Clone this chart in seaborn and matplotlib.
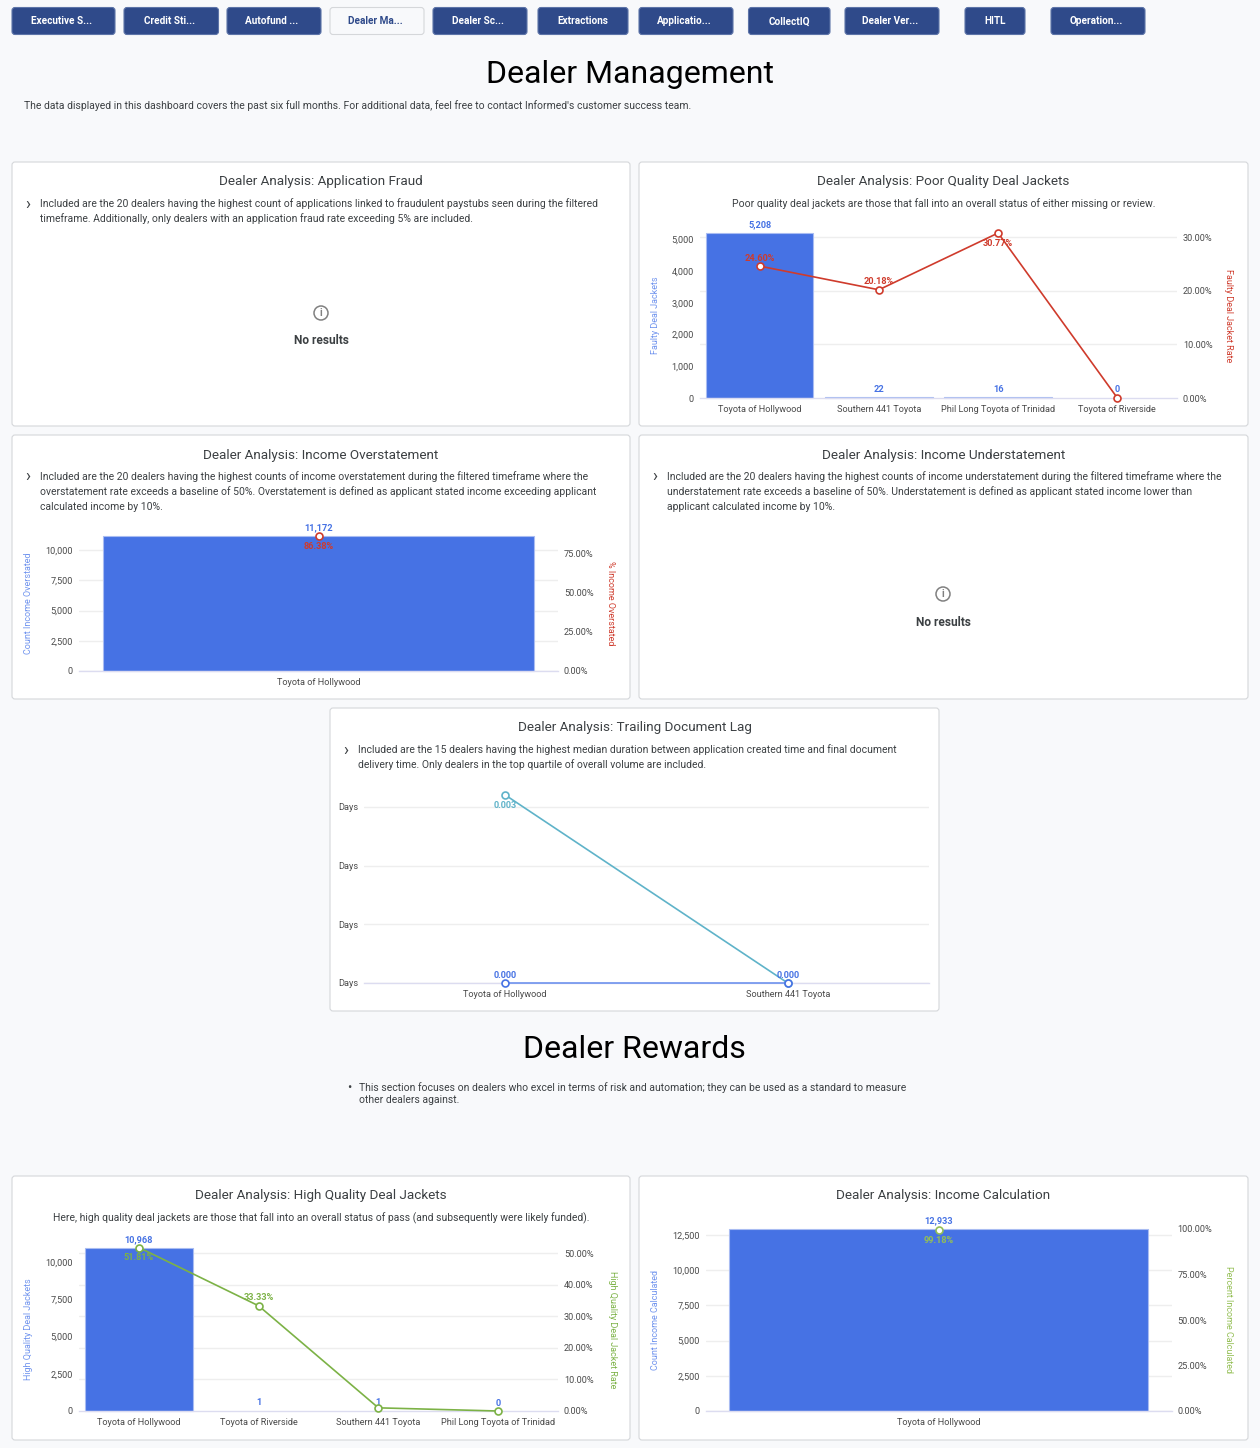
import numpy as np
import matplotlib
matplotlib.use("Agg")
import matplotlib.pyplot as plt
import seaborn as sns
from matplotlib.patches import FancyBboxPatch, Circle

W, H = 1260, 1448
PAGE = "#f8f9fb"
NAVY = "#2f4a8a"
BLUE = "#4672e4"
BLUE_LABEL = "#6f93ee"
RED = "#cf3b2c"
GREEN = "#7cb246"
LIME = "#94bf55"
TEAL = "#5fb3c9"
GRID = "#eeeeee"
BASE = "#dcdcf0"
TEXT = "#3c4043"
TICK = "#4a4a4a"

# data
tabs = ["Executive S...", "Credit Sti...", "Autofund ...", "Dealer Ma...", "Dealer Sc...", "Extractions",
        "Applicatio...", "CollectIQ", "Dealer Ver...", "HITL", "Operation..."]

poor_dealers = ["Toyota of Hollywood", "Southern 441 Toyota", "Phil Long Toyota of Trinidad", "Toyota of Riverside"]
poor_counts = [5208, 22, 16, 0]
poor_rates = [24.60, 20.18, 30.77, 0.0]
poor_count_ticks = [0, 1000, 2000, 3000, 4000, 5000]
poor_rate_ticks = [0, 10, 20, 30]

over_dealers = ["Toyota of Hollywood"]
over_counts = [11172]
over_rates = [86.38]
over_count_ticks = [0, 2500, 5000, 7500, 10000]
over_rate_ticks = [0, 25, 50, 75]

lag_dealers = ["Toyota of Hollywood", "Southern 441 Toyota"]
lag_upper = [0.0032, 0.0]
lag_lower = [0.0, 0.0]
lag_ticks = [0, 0.001, 0.002, 0.003]

high_dealers = ["Toyota of Hollywood", "Toyota of Riverside", "Southern 441 Toyota", "Phil Long Toyota of Trinidad"]
high_counts = [10968, 1, 1, 0]
high_rates = [51.81, 33.33, 1.0, 0.0]
high_count_ticks = [0, 2500, 5000, 7500, 10000]
high_rate_ticks = [0, 10, 20, 30, 40, 50]

calc_dealers = ["Toyota of Hollywood"]
calc_counts = [12933]
calc_rates = [99.18]
calc_count_ticks = [0, 2500, 5000, 7500, 10000, 12500]
calc_rate_ticks = [0, 25, 50, 75, 100]

sns.set_theme(style="white")
plt.rcParams["font.family"] = ["Roboto", "DejaVu Sans"]

fig = plt.figure(figsize=(W / 100, H / 100), dpi=100, facecolor=PAGE)
bg = fig.add_axes([0, 0, 1, 1])
bg.set_xlim(0, W)
bg.set_ylim(H, 0)
bg.axis("off")


def box(x0, y0, x1, y1, face, edge, radius=3):
    bg.add_patch(FancyBboxPatch((x0, y0), x1 - x0, y1 - y0, boxstyle=f"round,pad=0,rounding_size={radius}",
                                facecolor=face, edgecolor=edge, linewidth=0.8))


def label(x, y, s, size=7.51, color=TEXT, ha="left", **kw):
    bg.text(x, y + 1, s, fontsize=size, color=color, ha=ha, va="center", **kw)


def card(x0, y0, x1, y1, title, lines=(), chevron=True, text_x=None):
    box(x0, y0, x1, y1, "white", "#d5d7da")
    label((x0 + x1) / 2, y0 + 19, title, size=9.7, ha="center")
    if chevron and lines:
        label(x0 + 13, y0 + 41, "›", size=12)
    for i, s in enumerate(lines):
        if chevron:
            label(text_x, y0 + 41 + i * 15, s)
        else:
            label((x0 + x1) / 2, y0 + 41, s, ha="center")


def no_results(x, y):
    bg.add_patch(Circle((x, y), 7, facecolor="none", edgecolor="#808080", linewidth=1.1))
    label(x, y - 1, "i", size=7.5, color="#808080", ha="center", fontweight="bold")
    label(x, y + 27, "No results", size=8.6, ha="center", fontweight="bold")


def make_axes(x0, y0, x1, y1):
    ax = fig.add_axes([x0 / W, 1 - y1 / H, (x1 - x0) / W, (y1 - y0) / H])
    ax.patch.set_alpha(0)
    return ax


def clean(ax):
    for side in ["top", "left", "right"]:
        ax.spines[side].set_visible(False)
    ax.spines["bottom"].set_color(BASE)
    ax.spines["bottom"].set_linewidth(1)
    ax.set_xlabel("")
    ax.set_ylabel("")


def hollow(lines, color, z=4):
    for line in lines:
        line.set_markerfacecolor("white")
        line.set_markeredgecolor(color)
        line.set_markeredgewidth(1.2)
        line.set_markersize(5)
        line.set_clip_on(False)
        line.set_zorder(z)


def note(ax, i, y, s, color, dy):
    ax.annotate(s, (i, y), xytext=(0, dy), textcoords="offset pixels", ha="center", va="center",
                fontsize=6.6, fontweight="bold", color=color, annotation_clip=False, zorder=6)


def dual_chart(area, dealers, counts, rates, count_ticks, rate_ticks, count_name, rate_name,
               line_color, grid_on, left_x, right_x):
    ax = make_axes(*area)
    sns.barplot(x=dealers, y=counts, ax=ax, color=BLUE, saturation=1, width=0.9,
                edgecolor="#a9bcf2", linewidth=0.8)
    for bar, c in zip(ax.patches, counts):
        bar.set_clip_on(False)
        if c <= 1:
            bar.set_edgecolor("none")
    ymax = max(counts)
    rmax = max(rates)
    ax.set_ylim(0, ymax)
    ax.set_yticks(count_ticks, [f"{t:,}" for t in count_ticks])
    ax.tick_params(axis="both", length=0, labelsize=6.55, labelcolor=TICK)
    ax.tick_params(axis="y", pad=4.3)
    ax.tick_params(axis="x", pad=5)
    # gridlines stay on the bar axes so the bars cover them
    if grid_on == "right":
        ax.set_yticks(np.array(rate_ticks) * ymax / rmax, minor=True)
        ax.tick_params(axis="y", which="minor", length=0)
        ax.grid(True, which="minor", axis="y", color=GRID, linewidth=1)
    else:
        ax.grid(True, axis="y", color=GRID, linewidth=1)
    ax.set_axisbelow(True)
    clean(ax)

    ax2 = ax.twinx()
    ax2.patch.set_alpha(0)
    sns.pointplot(x=dealers, y=rates, ax=ax2, color=line_color, errorbar=None, linewidth=1.2, markers="o")
    hollow(ax2.lines, line_color)
    ax2.set_xlim(-0.5, len(dealers) - 0.5)
    ax2.set_ylim(0, rmax)
    ax2.set_yticks(rate_ticks, [f"{t:.2f}%" for t in rate_ticks])
    ax2.tick_params(axis="y", length=0, labelsize=6.55, labelcolor=TICK, pad=4.3)
    ax2.grid(False)
    clean(ax2)
    ax2.spines["bottom"].set_visible(False)

    width = area[2] - area[0]
    ax.set_ylabel(count_name, fontsize=6.5, color=BLUE_LABEL, va="center")
    ax.yaxis.set_label_coords((left_x - area[0]) / width, 0.5)
    ax2.set_ylabel(rate_name, fontsize=6.5, color=line_color, rotation=270, va="center")
    ax2.yaxis.set_label_coords((right_x - area[0]) / width, 0.5)

    for i, (c, r) in enumerate(zip(counts, rates)):
        if r >= 2:
            note(ax2, i, r, f"{r:.2f}%", line_color, -10 if r == rmax else 8)
        note(ax, i, c, f"{c:,}", BLUE, 8)


# tabs
tab_edges = [(12, 115), (124, 218.5), (227, 321), (330, 424), (433, 527), (538, 628),
             (639, 733), (748.5, 830), (845, 939), (965, 1025), (1051, 1145)]
for (x0, x1), name in zip(tab_edges, tabs):
    active = name == "Dealer Ma..."
    box(x0, 7.5, x1, 34.5, PAGE if active else NAVY, "#d5d7da" if active else "#5d74a8")
    shift = -2 if name.endswith("...") else 0
    label((x0 + x1) / 2 + shift, 20.5, name, size=7.2, color=NAVY if active else "white", ha="center", fontweight="bold")

label(630, 73.5, "Dealer Management", size=23, color="black", ha="center")
label(24, 105, "The data displayed in this dashboard covers the past six full months. For additional data, "
      "feel free to contact Informed's customer success team.")

card(12, 162, 630, 426, "Dealer Analysis: Application Fraud",
     ["Included are the 20 dealers having the highest count of applications linked to fraudulent paystubs seen during the filtered",
      "timeframe. Additionally, only dealers with an application fraud rate exceeding 5% are included."], text_x=40)
no_results(321, 313)

card(639, 162, 1248, 426, "Dealer Analysis: Poor Quality Deal Jackets",
     ["Poor quality deal jackets are those that fall into an overall status of either missing or review."], chevron=False)
dual_chart((700, 233, 1177, 398), poor_dealers, poor_counts, poor_rates, poor_count_ticks, poor_rate_ticks,
           "Faulty Deal Jackets", "Faulty Deal Jacket Rate", RED, "right", 655.5, 1229)

card(12, 435, 630, 699, "Dealer Analysis: Income Overstatement",
     ["Included are the 20 dealers having the highest counts of income overstatement during the filtered timeframe where the",
      "overstatement rate exceeds a baseline of 50%. Overstatement is defined as applicant stated income exceeding applicant",
      "calculated income by 10%."], text_x=40)
dual_chart((79, 536, 558, 671), over_dealers, over_counts, over_rates, over_count_ticks, over_rate_ticks,
           "Count Income Overstated", "% Income Overstated", RED, "left", 28.5, 611)

card(639, 435, 1248, 699, "Dealer Analysis: Income Understatement",
     ["Included are the 20 dealers having the highest counts of income understatement during the filtered timeframe where the",
      "understatement rate exceeds a baseline of 50%. Understatement is defined as applicant stated income lower than",
      "applicant calculated income by 10%."], text_x=667)
no_results(943, 594)

card(330, 708, 939, 1011, "Dealer Analysis: Trailing Document Lag",
     ["Included are the 15 dealers having the highest median duration between application created time and final document",
      "delivery time. Only dealers in the top quartile of overall volume are included."], text_x=358)
lag_ax = make_axes(364, 795, 929, 983)
sns.pointplot(x=lag_dealers, y=lag_upper, ax=lag_ax, color=TEAL, errorbar=None, linewidth=1.2, markers="o")
hollow(lag_ax.lines, TEAL)
n_teal = len(lag_ax.lines)
sns.pointplot(x=lag_dealers, y=lag_lower, ax=lag_ax, color=BLUE_LABEL, errorbar=None, linewidth=1.2, markers="o")
hollow(lag_ax.lines[n_teal:], BLUE, z=5)
lag_ax.set_xlim(-0.5, len(lag_dealers) - 0.5)
lag_ax.set_ylim(0, max(lag_upper))
lag_ax.set_yticks(lag_ticks, ["Days"] * len(lag_ticks))
lag_ax.tick_params(axis="both", length=0, labelsize=6.55, labelcolor=TICK)
lag_ax.tick_params(axis="y", pad=4.3)
lag_ax.tick_params(axis="x", pad=5)
lag_ax.grid(True, axis="y", color=GRID, linewidth=1)
lag_ax.set_axisbelow(True)
clean(lag_ax)
note(lag_ax, 0, lag_upper[0], f"{lag_upper[0]:.3f}", TEAL, -10)
for i, v in enumerate(lag_lower):
    note(lag_ax, i, v, f"{v:.3f}", BLUE, 8)

label(634, 1048.5, "Dealer Rewards", size=23, color="black", ha="center")
label(347, 1087, "•", size=9)
label(359, 1087, "This section focuses on dealers who excel in terms of risk and automation; they can be used as a standard to measure")
label(359, 1099, "other dealers against.")

card(12, 1176, 630, 1440, "Dealer Analysis: High Quality Deal Jackets",
     ["Here, high quality deal jackets are those that fall into an overall status of pass (and subsequently were likely funded)."],
     chevron=False)
dual_chart((79, 1247.5, 558, 1411), high_dealers, high_counts, high_rates, high_count_ticks, high_rate_ticks,
           "High Quality Deal Jackets", "High Quality Deal Jacket Rate", GREEN, "right", 28.5, 612)

card(639, 1176, 1248, 1440, "Dealer Analysis: Income Calculation")
dual_chart((705.5, 1229, 1171.5, 1411), calc_dealers, calc_counts, calc_rates, calc_count_ticks, calc_rate_ticks,
           "Count Income Calculated", "Percent Income Calculated", LIME, "left", 655.5, 1229)

fig.savefig("out.png", dpi=100, facecolor=PAGE)
